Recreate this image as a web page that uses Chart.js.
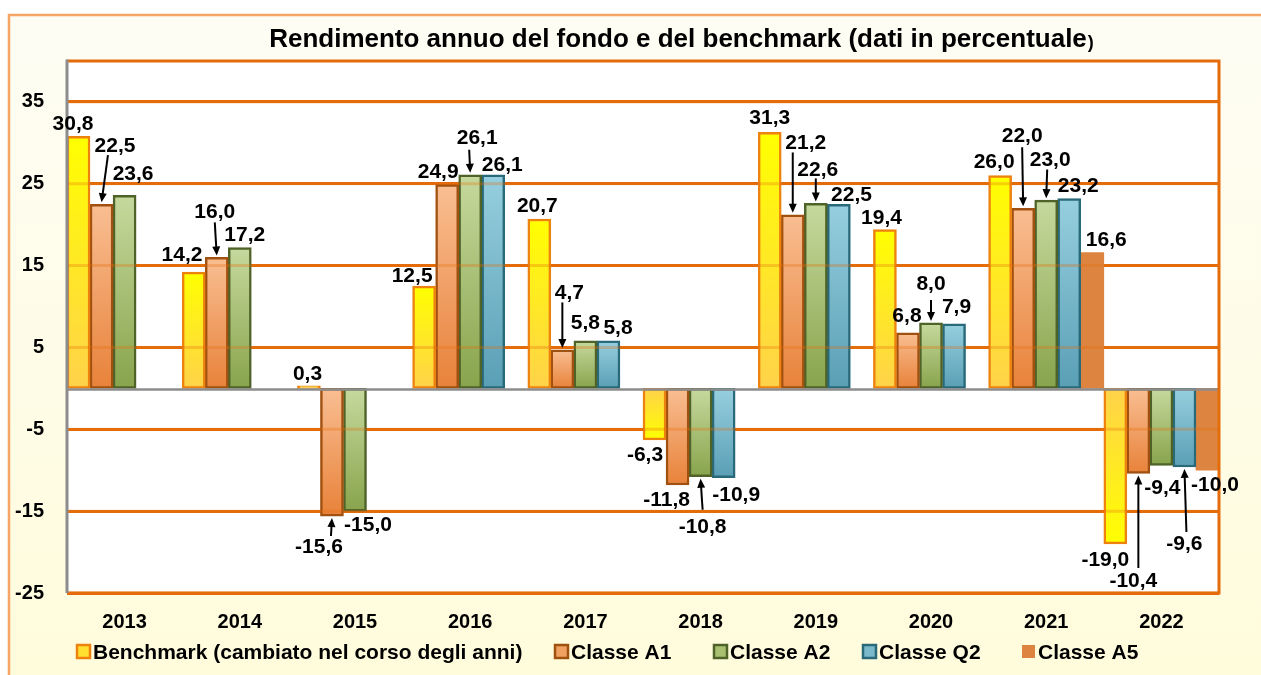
<!DOCTYPE html>
<html lang="it">
<head>
<meta charset="utf-8">
<title>Rendimento annuo del fondo e del benchmark</title>
<script src="https://cdn.jsdelivr.net/npm/chart.js@4.4.1/dist/chart.umd.min.js"></script>
<style>
  html, body { margin: 0; padding: 0; background: #ffffff; }
  #contenitore { width: 1261px; height: 675px; position: relative; }
</style>
</head>
<body>
<div id="contenitore"><canvas id="grafico"></canvas></div>
<script>
// dati (valori in percentuale)
const anni = ["2013", "2014", "2015", "2016", "2017", "2018", "2019", "2020", "2021", "2022"];
const benchmark = [30.8, 14.2, 0.3, 12.5, 20.7, -6.3, 31.3, 19.4, 26.0, -19.0];
const classeA1 = [22.5, 16.0, -15.6, 24.9, 4.7, -11.8, 21.2, 6.8, 22.0, -10.4];
const classeA2 = [23.6, 17.2, -15.0, 26.1, 5.8, -10.8, 22.6, 8.0, 23.0, -9.4];
const classeQ2 = [null, null, null, 26.1, 5.8, -10.9, 22.5, 7.9, 23.2, -9.6];
const classeA5 = [null, null, null, null, null, null, null, null, 16.6, -10.0];
const nomiSerie = ["Benchmark (cambiato nel corso degli anni)", "Classe A1", "Classe A2", "Classe Q2", "Classe A5"];
const tickY = [-25, -15, -5, 5, 15, 25, 35];

const FONT = "'Liberation Sans', Arial, sans-serif";
const ARANCIO = "#E46C0A";
const GRIGIO = "#8C8C8C";

// colori delle serie: chiaro (alto), scuro (basso), bordo
const colori = [
  { alto: "#FFFF00", basso: "#FFD24A", bordo: "#EE820F", legenda: "#FFE030", invertiNeg: true },
  { alto: "#F9BE92", basso: "#E8823A", bordo: "#A0500F", legenda: "#F0A060" },
  { alto: "#C6D99E", basso: "#88A44C", bordo: "#4F6228", legenda: "#A8C070" },
  { alto: "#96CFDF", basso: "#5A9FB5", bordo: "#28697A", legenda: "#7AB8CC" },
  { alto: "#DC8440", basso: "#DC8440", bordo: "#DC8440", legenda: "#DC8440", piatto: true }
];

// x di partenza di ogni voce della legenda
const legendaX = [77, 555, 714, 863, 1022];

// posizione delle etichette rispetto alla punta della barra: [dx, dy, freccia, partenza freccia dy, partenza freccia dx]
const posEtichette = [
  [[-5.5, -13], [-11.7, -17.7], [-1.4, -12.5], [-12, -11], [-2, -13.5], [-9.5, 14.5], [0, -14.7], [-3.4, -12], [-6, -14.6], [-10, 15.6]],
  [[13.4, -59, true, 10, 6.4], [-2, -46, true, 11, -2], [-13, 30, true, -10, -1], [-9, -13.5], [7, -57.5, true, 10, 0], [-11, 14.5], [13, -72.4, true, 10, 0], [-1, -18], [-1, -73, true, 12, -1], [-5, 107, true, -12.5, 0]],
  [[8.5, -22], [5, -13], [13, 13.5], [7, -38, true, 13, -1], [0, -18.5], [2, 49, true, -16, 2], [2, -34, true, 9, 0], [0, -40, true, 17, 0], [4, -40.6, true, 10, 1], [1, 22]],
  [null, null, null, [9, -11], [9.6, -13.5], [12.5, 17], [12.7, -9.7], [2.5, -18], [9, -13], [0, 76.5, true, -11.5, 2]],
  [null, null, null, null, null, null, null, null, [14, -13], [7.5, 14]]
];

function formatta(v) {
  return v.toFixed(1).replace(".", ",");
}

// sfumatura verticale per ogni barra
function sfumatura(col) {
  return function (c) {
    if (col.piatto) return col.alto;
    if (c.type !== "data" || c.raw == null) return col.legenda;
    const chart = c.chart;
    if (!chart.chartArea || !chart.scales.y) return col.legenda;
    const y = chart.scales.y;
    const yv = y.getPixelForValue(c.raw);
    const y0 = y.getPixelForValue(0);
    const su = Math.min(yv, y0), giu = Math.max(yv, y0);
    if (giu - su < 2) return col.basso;
    const g = chart.ctx.createLinearGradient(0, su, 0, giu);
    if (col.invertiNeg && c.raw < 0) {
      g.addColorStop(0, col.basso);
      g.addColorStop(1, col.alto);
    } else {
      g.addColorStop(0, col.alto);
      g.addColorStop(1, col.basso);
    }
    return g;
  };
}

const serie = [benchmark, classeA1, classeA2, classeQ2, classeA5];

const datasets = serie.map(function (valori, i) {
  return {
    label: nomiSerie[i],
    data: valori,
    backgroundColor: sfumatura(colori[i]),
    borderColor: colori[i].bordo,
    borderWidth: colori[i].piatto ? 0 : 2.5,
    borderSkipped: false,
    categoryPercentage: 1.0,
    barPercentage: 1.0
  };
});

function freccia(ctx, x1, y1, x2, y2) {
  const ang = Math.atan2(y2 - y1, x2 - x1);
  const lung = 9, larg = 4;
  ctx.beginPath();
  ctx.moveTo(x1, y1);
  ctx.lineTo(x2 - Math.cos(ang) * lung * 0.8, y2 - Math.sin(ang) * lung * 0.8);
  ctx.strokeStyle = "#000";
  ctx.lineWidth = 2;
  ctx.stroke();
  ctx.beginPath();
  ctx.moveTo(x2, y2);
  ctx.lineTo(x2 - Math.cos(ang) * lung - Math.sin(ang) * larg, y2 - Math.sin(ang) * lung + Math.cos(ang) * larg);
  ctx.lineTo(x2 - Math.cos(ang) * lung + Math.sin(ang) * larg, y2 - Math.sin(ang) * lung - Math.cos(ang) * larg);
  ctx.closePath();
  ctx.fillStyle = "#000";
  ctx.fill();
}

const sfondo = {
  id: "sfondo",
  beforeDraw(chart) {
    const ctx = chart.ctx;
    const a = chart.chartArea;
    ctx.save();
    ctx.fillStyle = "#ffffff";
    ctx.fillRect(0, 0, chart.width, chart.height);
    const g = ctx.createLinearGradient(0, 15, 0, chart.height);
    g.addColorStop(0, "#FEFDF4");
    g.addColorStop(1, "#FFFCDC");
    ctx.fillStyle = g;
    ctx.fillRect(9, 15, chart.width, chart.height);
    ctx.strokeStyle = "#F6A565";
    ctx.lineWidth = 2.5;
    ctx.strokeRect(9, 15, chart.width + 20, chart.height + 20);
    ctx.fillStyle = "#ffffff";
    ctx.fillRect(a.left, a.top, a.right - a.left, a.bottom - a.top);
    ctx.restore();
  }
};

// titolo e legenda disegnati a mano
const testi = {
  id: "testi",
  afterDraw(chart) {
    const ctx = chart.ctx;
    ctx.save();
    ctx.fillStyle = "#000";
    ctx.textBaseline = "middle";
    ctx.textAlign = "left";
    const parte1 = "Rendimento annuo del fondo e del benchmark (dati in percentuale";
    ctx.font = "bold 26px " + FONT;
    const w1 = ctx.measureText(parte1).width;
    ctx.font = "bold 18px " + FONT;
    const w2 = ctx.measureText(")").width;
    const x0 = 681 - (w1 + w2) / 2;
    ctx.font = "bold 26px " + FONT;
    ctx.fillText(parte1, x0, 40);
    ctx.font = "bold 18px " + FONT;
    ctx.fillText(")", x0 + w1 + 1, 43);

    // legenda
    ctx.font = "bold 21px " + FONT;
    nomiSerie.forEach(function (nome, i) {
      const x = legendaX[i];
      const col = colori[i];
      ctx.fillStyle = col.legenda;
      ctx.fillRect(x, 645, 13, 13);
      if (!col.piatto) {
        ctx.strokeStyle = col.bordo;
        ctx.lineWidth = 2.5;
        ctx.strokeRect(x, 645, 13, 13);
      }
      ctx.fillStyle = "#000";
      ctx.fillText(nome, x + 16, 653);
    });
    ctx.restore();
  }
};

const etichette = {
  id: "etichette",
  afterDatasetsDraw(chart) {
    const ctx = chart.ctx;
    const a = chart.chartArea;
    const y = chart.scales.y;
    ctx.save();
    // griglia leggera sopra le barre
    ctx.globalAlpha = 0.3;
    ctx.strokeStyle = ARANCIO;
    ctx.lineWidth = 3;
    tickY.forEach(function (t) {
      const py = y.getPixelForValue(t);
      ctx.beginPath();
      ctx.moveTo(a.left, py);
      ctx.lineTo(a.right, py);
      ctx.stroke();
    });
    ctx.globalAlpha = 1;
    // linea dello zero
    const p0 = y.getPixelForValue(0);
    ctx.strokeStyle = GRIGIO;
    ctx.lineWidth = 2.5;
    ctx.beginPath();
    ctx.moveTo(a.left, p0 + 1);
    ctx.lineTo(a.right, p0 + 1);
    ctx.stroke();
    // bordo dell'area del grafico
    ctx.strokeStyle = ARANCIO;
    ctx.lineWidth = 3;
    ctx.beginPath();
    ctx.moveTo(a.left, a.top);
    ctx.lineTo(a.right, a.top);
    ctx.lineTo(a.right, a.bottom);
    ctx.lineTo(a.left, a.bottom);
    ctx.stroke();
    ctx.strokeStyle = GRIGIO;
    ctx.beginPath();
    ctx.moveTo(a.left, a.top - 1.5);
    ctx.lineTo(a.left, a.bottom);
    ctx.stroke();
    // etichette e frecce
    ctx.font = "bold 21px " + FONT;
    ctx.textAlign = "center";
    ctx.textBaseline = "middle";
    chart.data.datasets.forEach(function (ds, i) {
      const meta = chart.getDatasetMeta(i);
      meta.data.forEach(function (barra, j) {
        const v = ds.data[j];
        const pos = posEtichette[i][j];
        if (v == null || !pos) return;
        const lx = barra.x + pos[0];
        const ly = barra.y + pos[1];
        ctx.fillStyle = "#000";
        ctx.fillText(formatta(v), lx, ly + 1);
        if (pos[2]) {
          const verso = v >= 0 ? 1 : -1;
          freccia(ctx, barra.x + pos[4], ly + pos[3], barra.x, barra.y - verso * 2);
        }
      });
    });
    ctx.restore();
  }
};

const grafico = new Chart(document.getElementById("grafico"), {
  type: "bar",
  data: { labels: anni, datasets: datasets },
  options: {
    responsive: true,
    maintainAspectRatio: false,
    animation: false,
    layout: { padding: { top: 61, left: 10, right: 42, bottom: 40 } },
    scales: {
      x: {
        grid: { display: false, drawTicks: false },
        border: { display: false },
        ticks: { color: "#000", font: { family: FONT, size: 20, weight: "bold" }, padding: 17 },
        afterFit: function (s) { s.height = 42; }
      },
      y: {
        min: -25,
        max: 40,
        afterBuildTicks: function (s) { s.ticks = tickY.map(function (v) { return { value: v }; }); },
        grid: { color: ARANCIO, lineWidth: 3, drawTicks: false },
        border: { display: false },
        ticks: { color: "#000", font: { family: FONT, size: 20, weight: "bold" }, padding: 23 },
        afterFit: function (s) { s.width = 57; }
      }
    },
    plugins: {
      title: { display: false },
      tooltip: { enabled: false },
      legend: { display: false }
    }
  },
  plugins: [sfondo, etichette, testi]
});
</script>
</body>
</html>
